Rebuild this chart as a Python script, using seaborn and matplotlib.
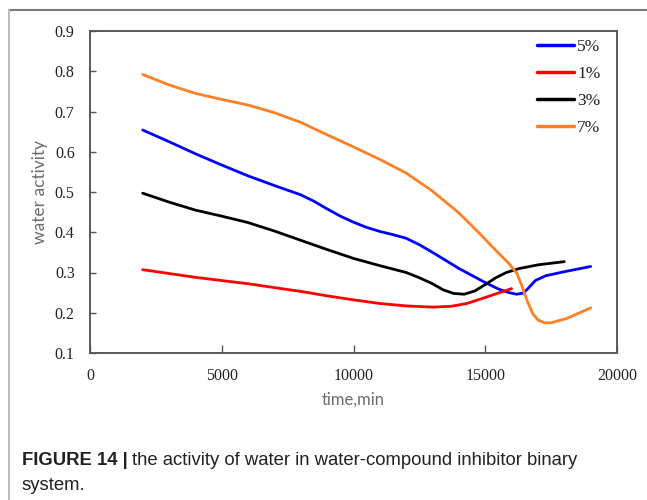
import matplotlib
matplotlib.use("Agg")
import matplotlib.pyplot as plt
from matplotlib.lines import Line2D
import pandas as pd
import seaborn as sns

# Water activity over time for each inhibitor concentration
t_5 = [2000, 3000, 4000, 5000, 6000, 7000, 8000, 8500, 9000, 9500, 10000, 10500, 11000, 11500, 12000,
       12500, 13000, 14000, 15000, 15500, 15900, 16200, 16450, 16650, 16900, 17300, 18000, 19000]
a_5 = [0.654, 0.625, 0.595, 0.567, 0.540, 0.516, 0.493, 0.477, 0.458, 0.440, 0.425, 0.412, 0.402, 0.394, 0.385,
       0.369, 0.350, 0.310, 0.275, 0.259, 0.250, 0.246, 0.249, 0.262, 0.280, 0.292, 0.302, 0.315]

t_1 = [2000, 4000, 6000, 8000, 9000, 10000, 11000, 12000, 13000, 13700, 14300, 15000, 15500, 16000]
a_1 = [0.307, 0.288, 0.272, 0.253, 0.242, 0.232, 0.223, 0.217, 0.214, 0.216, 0.223, 0.238, 0.249, 0.260]

t_3 = [2000, 3000, 4000, 5000, 6000, 7000, 8000, 9000, 10000, 11000, 12000, 12500, 13000, 13400, 13800,
       14200, 14600, 15000, 15400, 15800, 16300, 17000, 18000]
a_3 = [0.497, 0.475, 0.455, 0.440, 0.424, 0.403, 0.380, 0.357, 0.335, 0.317, 0.300, 0.287, 0.272, 0.257, 0.248,
       0.246, 0.254, 0.270, 0.287, 0.300, 0.310, 0.319, 0.327]

t_7 = [2000, 3000, 4000, 5000, 6000, 7000, 8000, 9000, 10000, 11000, 12000, 13000, 14000, 14800, 15400,
       15900, 16200, 16400, 16600, 16800, 17000, 17250, 17500, 18100, 19000]
a_7 = [0.792, 0.766, 0.745, 0.730, 0.716, 0.697, 0.673, 0.642, 0.612, 0.581, 0.547, 0.502, 0.448, 0.396, 0.355,
       0.322, 0.298, 0.265, 0.228, 0.198, 0.182, 0.175, 0.175, 0.186, 0.212]

series_names = ["5%", "1%", "3%", "7%"]
series_colors = ["#0000FF", "#FF0000", "#000000", "#FF7F27"]
x_ticks = [0, 5000, 10000, 15000, 20000]
y_ticks = [0.1, 0.2, 0.3, 0.4, 0.5, 0.6, 0.7, 0.8, 0.9]

frames = []
for name, t, a in zip(series_names, [t_5, t_1, t_3, t_7], [a_5, a_1, a_3, a_7]):
    frames.append(pd.DataFrame({"time": t, "activity": a, "conc": name}))
df = pd.concat(frames, ignore_index=True)

sns.set_style("white")
plt.rcParams["font.family"] = ["Liberation Serif", "DejaVu Serif"]

fig = plt.figure(figsize=(6.47, 5.00), dpi=100)
ax = fig.add_axes([90 / 647, 1 - 353 / 500, 527 / 647, 322 / 500])

sns.lineplot(data=df, x="time", y="activity", hue="conc", hue_order=series_names,
             palette=dict(zip(series_names, series_colors)), linewidth=2.0,
             estimator=None, ax=ax)
for line in ax.get_lines():
    line.set_solid_joinstyle("round")
    line.set_solid_capstyle("round")

ax.set_xlim(0, 20000)
ax.set_ylim(0.1, 0.9)
ax.set_xticks(x_ticks)
ax.set_xticklabels([str(v) for v in x_ticks])
ax.set_yticks(y_ticks)
ax.set_yticklabels([f"{v:.1f}" for v in y_ticks])
ax.tick_params(axis="x", direction="in", length=6, width=1, color="#555555",
               labelsize=11.5, labelcolor="#222222", pad=11, bottom=True)
ax.tick_params(axis="y", direction="in", length=4, width=1, color="#555555",
               labelsize=11.5, labelcolor="#222222", pad=11, left=True)
for sp in ax.spines.values():
    sp.set_color("#595959")
    sp.set_linewidth(1.4)

ax.set_xlabel("time,min", family="Lato", fontsize=12, color="#6b6b6b", labelpad=5)
ax.set_ylabel("water activity", family="Lato", fontsize=12.5, color="#6b6b6b", labelpad=5)

leg = ax.legend(loc="upper right", bbox_to_anchor=(0.982, 0.997), frameon=False, fontsize=12.5,
                handlelength=2.1, handletextpad=0.2, labelspacing=0.62, borderaxespad=0.0)
for line in leg.get_lines():
    line.set_linewidth(2.5)
for txt in leg.get_texts():
    txt.set_color("#222222")

# Page frame lines
fig.add_artist(Line2D([9 / 647, 1], [1 - 10 / 500, 1 - 10 / 500], color="#7a7a7a", lw=1.5))
fig.add_artist(Line2D([9 / 647, 9 / 647], [0, 1 - 10 / 500], color="#bdbdbd", lw=1.5))

# Caption
cap_font = ["Liberation Sans", "DejaVu Sans"]
cap_size = 13.3
bold = fig.text(22 / 647, 1 - 465 / 500, "FIGURE 14 |", family=cap_font, fontweight="bold",
                fontsize=cap_size, color="#222222", va="baseline")
fig.canvas.draw()
bb = bold.get_window_extent()
fig.text((bb.x1 + 4) / 647, 1 - 465 / 500, "the activity of water in water-compound inhibitor binary",
         family=cap_font, fontsize=cap_size, color="#222222", va="baseline")
fig.text(22 / 647, 1 - 490 / 500, "system.", family=cap_font, fontsize=cap_size,
         color="#222222", va="baseline")

fig.savefig("out.png", dpi=100)
